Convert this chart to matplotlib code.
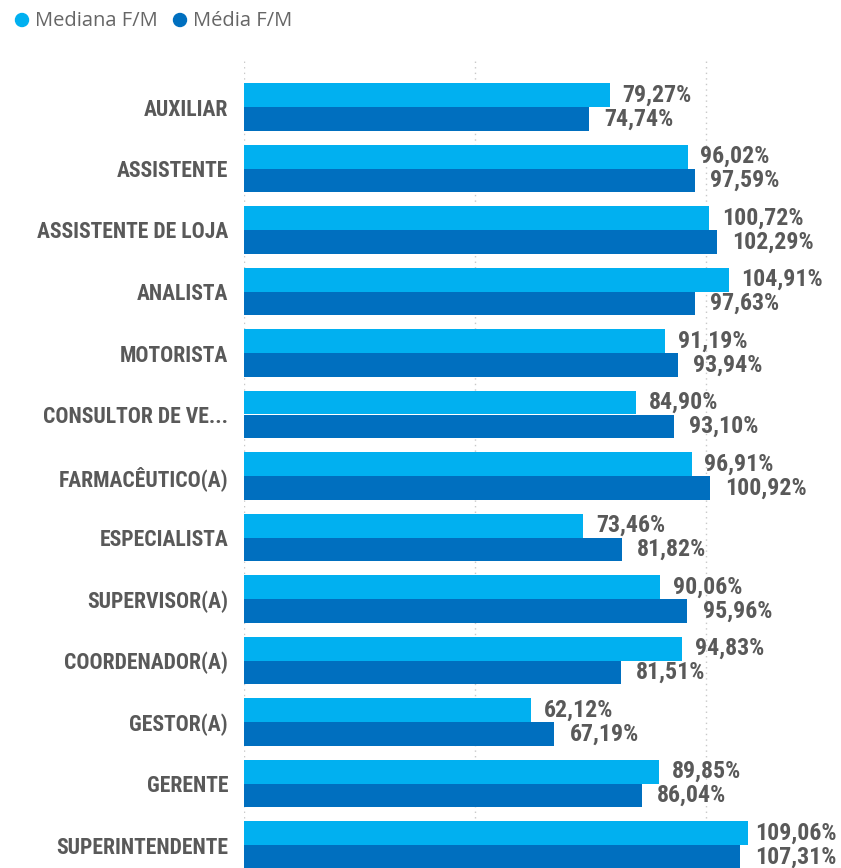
import matplotlib
matplotlib.use("Agg")
import matplotlib.pyplot as plt
from matplotlib import font_manager
import numpy as np

categories = ["AUXILIAR", "ASSISTENTE", "ASSISTENTE DE LOJA", "ANALISTA", "MOTORISTA",
              "CONSULTOR DE VE...", "FARMACÊUTICO(A)", "ESPECIALISTA", "SUPERVISOR(A)",
              "COORDENADOR(A)", "GESTOR(A)", "GERENTE", "SUPERINTENDENTE"]
mediana = [79.27, 96.02, 100.72, 104.91, 91.19, 84.90, 96.91, 73.46, 90.06, 94.83, 62.12, 89.85, 109.06]
media = [74.74, 97.59, 102.29, 97.63, 93.94, 93.10, 100.92, 81.82, 95.96, 81.51, 67.19, 86.04, 107.31]
series_names = ["Mediana F/M", "Média F/M"]
colors = ["#01B0F0", "#006FBF"]


def pick_font(cands):
    for name, size in cands:
        try:
            font_manager.findfont(font_manager.FontProperties(family=name), fallback_to_default=False)
            return name, size
        except Exception:
            continue
    return "DejaVu Sans", 12


cat_font, cat_size = pick_font([("Roboto Condensed", 15.6), ("DejaVu Sans Condensed", 13.5),
                                ("Roboto", 13.2)])
val_font, val_size = pick_font([("Roboto Condensed", 17.2), ("DejaVu Sans Condensed", 15),
                                ("Roboto", 14.8)])

W, H = 841, 868
fig = plt.figure(figsize=(W / 100, H / 100), dpi=100)
ax_left = 244 / W
ax_top = 60
ax = fig.add_axes([ax_left, 0, 1 - ax_left, 1 - ax_top / H])

y = np.arange(len(categories))
bh = 0.39
ax.barh(y - bh / 2, mediana, height=bh, color=colors[0], zorder=3)
ax.barh(y + bh / 2, media, height=bh, color=colors[1], zorder=3)

px_per_unit = 61.5
top_units = (107 - ax_top) / px_per_unit
bottom_units = (H - 107) / px_per_unit
ax.set_ylim(bottom_units, -top_units)
xmax = (W - 244) / 4.62
ax.set_xlim(0, xmax)

for v in [0, 50, 100]:
    ax.axvline(v, color="#c8c8c8", linestyle=(0, (1, 3)), linewidth=1, zorder=1)

ax.set_yticks(y)
ax.set_yticklabels(categories, fontfamily=cat_font, fontweight="bold",
                   fontsize=cat_size, color="#595959")
ax.tick_params(axis="y", length=0, pad=11.5)
ax.set_xticks([])
for s in ax.spines.values():
    s.set_visible(False)

lab_kw = dict(fontfamily=val_font, fontweight="bold", fontsize=val_size,
              color="#595959", va="center", ha="left", zorder=4, annotation_clip=False)
labels = []
for i in range(len(categories)):
    labels.append(ax.annotate(f"{mediana[i]:.2f}%".replace(".", ","), (mediana[i], y[i] - bh / 2),
                              xytext=(9, 0), textcoords="offset points", **lab_kw))
    labels.append(ax.annotate(f"{media[i]:.2f}%".replace(".", ","), (media[i], y[i] + bh / 2),
                              xytext=(11, 0), textcoords="offset points", **lab_kw))

# keep labels inside the visible area (as the original does)
fig.canvas.draw()
renderer = fig.canvas.get_renderer()
right_limit = 837
for t in labels:
    ext = t.get_window_extent(renderer)
    if ext.x1 > right_limit:
        dx, dy = t.xyann
        t.xyann = (dx - (ext.x1 - right_limit) * 72 / 100, dy)

# legend
lx = [22 / W, 180 / W]
for i, name in enumerate(series_names):
    fig.patches.append(matplotlib.patches.Ellipse((lx[i], 1 - 20 / H), 13 / W, 13 / H,
                                                  transform=fig.transFigure, color=colors[i]))
    fig.text(lx[i] + 13 / W, 1 - 21 / H, name, fontsize=14.5, color="#666666",
             fontfamily="Open Sans", va="center", ha="left")

fig.savefig("out.png", dpi=100)
